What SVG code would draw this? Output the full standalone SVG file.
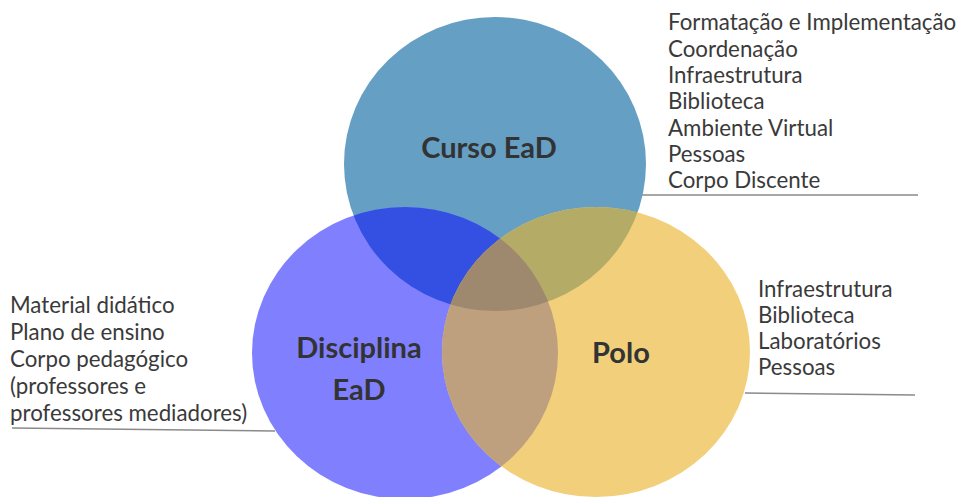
<svg xmlns="http://www.w3.org/2000/svg" width="961" height="497" viewBox="0 0 961 497">
<style>
.title{font-family:Lato,"Liberation Sans",sans-serif;font-weight:bold;font-size:29px;fill:#333333;text-anchor:middle}
.item{font-family:Lato,"Liberation Sans",sans-serif;font-size:22.3px;fill:#3a3a3a}
.lead{stroke:#8a8a8a;stroke-width:1.5;fill:none}
</style>
<defs>
<ellipse id="eBlue" cx="495" cy="164" rx="151" ry="147"/>
<ellipse id="ePurple" cx="405" cy="353" rx="153" ry="146"/>
<ellipse id="eYellow" cx="596" cy="352" rx="154" ry="145"/>
<clipPath id="cBlue"><use href="#eBlue"/></clipPath>
<clipPath id="cPurple"><use href="#ePurple"/></clipPath>
</defs>
<g id="connectors">
<line class="lead" x1="640" y1="195" x2="918" y2="195"/>
<line class="lead" x1="12" y1="428" x2="275" y2="431"/>
<line class="lead" x1="745" y1="393" x2="915" y2="395"/>
</g>
<g id="curso">
<use href="#eBlue" fill="#659FC4"/>
</g>
<g id="disciplina">
<use href="#ePurple" fill="#8080FF"/>
</g>
<g id="polo">
<use href="#eYellow" fill="#F1CF7B"/>
</g>
<g id="overlaps">
<use href="#ePurple" fill="#3350E2" clip-path="url(#cBlue)"/>
<use href="#eYellow" fill="#B4AB66" clip-path="url(#cBlue)"/>
<use href="#eYellow" fill="#BE9F7E" clip-path="url(#cPurple)"/>
<g clip-path="url(#cBlue)"><use href="#eYellow" fill="#9F896E" clip-path="url(#cPurple)"/></g>
</g>
<g id="labels">
<text class="title" x="489" y="158">Curso EaD</text>
<text class="title" x="359" y="358">Disciplina</text>
<text class="title" x="359" y="400">EaD</text>
<text class="title" x="621" y="363">Polo</text>
</g>
<g id="curso-items">
<text class="item" x="668" y="30">Formatação e Implementação</text>
<text class="item" x="668" y="56.5">Coordenação</text>
<text class="item" x="668" y="83">Infraestrutura</text>
<text class="item" x="668" y="109">Biblioteca</text>
<text class="item" x="668" y="135.5">Ambiente Virtual</text>
<text class="item" x="668" y="162">Pessoas</text>
<text class="item" x="668" y="188">Corpo Discente</text>
</g>
<g id="disciplina-items">
<text class="item" x="10" y="313">Material didático</text>
<text class="item" x="10" y="340">Plano de ensino</text>
<text class="item" x="10" y="367">Corpo pedagógico</text>
<text class="item" x="10" y="394">(professores e</text>
<text class="item" x="10" y="421">professores mediadores)</text>
</g>
<g id="polo-items">
<text class="item" x="758" y="296.5">Infraestrutura</text>
<text class="item" x="758" y="322.5">Biblioteca</text>
<text class="item" x="758" y="348.5">Laboratórios</text>
<text class="item" x="758" y="374.5">Pessoas</text>
</g>
</svg>
